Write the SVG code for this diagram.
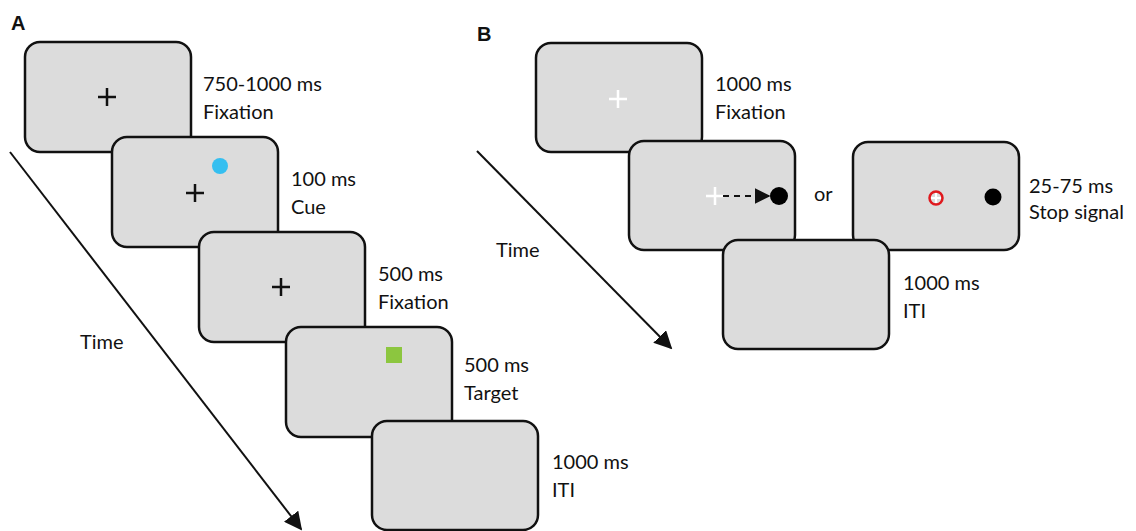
<svg xmlns="http://www.w3.org/2000/svg" width="1136" height="531" viewBox="0 0 1136 531">
<defs>
<style>
.box{fill:#dcdcdc;stroke:#111;stroke-width:2.5}
.lbl{font-family:Lato,"Open Sans","Liberation Sans",sans-serif;font-size:20px;fill:#111}
.panel{font-family:"Liberation Sans",Arial,sans-serif;font-size:20px;font-weight:bold;fill:#111}
.crossk{stroke:#111;stroke-width:2.5}
.crossw{stroke:#fff;stroke-width:2.5}
.time{stroke:#111;stroke-width:2;fill:none}
</style>
<marker id="ah" viewBox="0 0 10 10" refX="9" refY="5" markerWidth="9" markerHeight="9" markerUnits="strokeWidth" orient="auto">
<path d="M0,0 L10,5 L0,10 z" fill="#111"/>
</marker>
<marker id="ahs" viewBox="0 0 10 10" refX="9" refY="5" markerWidth="8" markerHeight="8" markerUnits="strokeWidth" orient="auto">
<path d="M0,0 L10,5 L0,10 z" fill="#111"/>
</marker>
</defs>
<rect width="1136" height="531" fill="#fff"/>
<text class="panel" x="11" y="30">A</text>
<text class="panel" x="477" y="41">B</text>
<g id="connectors">
<line class="time" x1="10" y1="152" x2="301" y2="529" marker-end="url(#ah)"/>
<line class="time" x1="477" y1="151" x2="671" y2="348" marker-end="url(#ah)"/>
</g>
<text class="lbl" x="80" y="349">Time</text>
<text class="lbl" x="496" y="257">Time</text>
<g id="a1">
<rect class="box" x="25" y="42" width="166" height="110" rx="15"/>
<path class="crossk" d="M98,97 h18 M107,88 v18"/>
<text class="lbl" x="203" y="91">750-1000 ms</text>
<text class="lbl" x="203" y="119">Fixation</text>
</g>
<g id="a2">
<rect class="box" x="112" y="137" width="166" height="110" rx="15"/>
<path class="crossk" d="M186,193 h18 M195,184 v18"/>
<circle cx="220" cy="166" r="8" fill="#35bff0"/>
<text class="lbl" x="291" y="186">100 ms</text>
<text class="lbl" x="291" y="214">Cue</text>
</g>
<g id="a3">
<rect class="box" x="199" y="232" width="166" height="110" rx="15"/>
<path class="crossk" d="M272,287 h18 M281,278 v18"/>
<text class="lbl" x="378" y="281">500 ms</text>
<text class="lbl" x="378" y="309">Fixation</text>
</g>
<g id="a4">
<rect class="box" x="286" y="327" width="166" height="110" rx="15"/>
<rect x="386" y="347" width="16" height="16" fill="#8cc63f"/>
<text class="lbl" x="464" y="372">500 ms</text>
<text class="lbl" x="464" y="400">Target</text>
</g>
<g id="a5">
<rect class="box" x="372" y="421" width="166" height="109" rx="15"/>
<text class="lbl" x="552" y="469">1000 ms</text>
<text class="lbl" x="552" y="497">ITI</text>
</g>
<g id="b1">
<rect class="box" x="536" y="43" width="166" height="109" rx="15"/>
<path class="crossw" d="M609,99 h18 M618,90 v18"/>
<text class="lbl" x="715" y="91">1000 ms</text>
<text class="lbl" x="715" y="119">Fixation</text>
</g>
<g id="b2">
<rect class="box" x="629" y="141" width="166" height="109" rx="15"/>
<path class="crossw" d="M706,196 h18 M715,187 v18"/>
<line x1="723" y1="196" x2="769" y2="196" stroke="#111" stroke-width="2" stroke-dasharray="6,5" marker-end="url(#ahs)"/>
<circle cx="779" cy="196" r="9" fill="#000"/>
</g>
<text class="lbl" x="814" y="201">or</text>
<g id="b3">
<rect class="box" x="853" y="142" width="166" height="108" rx="15"/>
<path d="M931,198 h10 M936,193 v10" stroke="#fff" stroke-width="2"/>
<circle cx="936" cy="198" r="6.5" fill="none" stroke="#e0191e" stroke-width="2.5"/>
<circle cx="993" cy="197" r="8.5" fill="#000"/>
<text class="lbl" x="1029" y="193">25-75 ms</text>
<text class="lbl" x="1029" y="219">Stop signal</text>
</g>
<g id="b4">
<rect class="box" x="723" y="240" width="166" height="109" rx="15"/>
<text class="lbl" x="903" y="290">1000 ms</text>
<text class="lbl" x="903" y="318">ITI</text>
</g>
</svg>
